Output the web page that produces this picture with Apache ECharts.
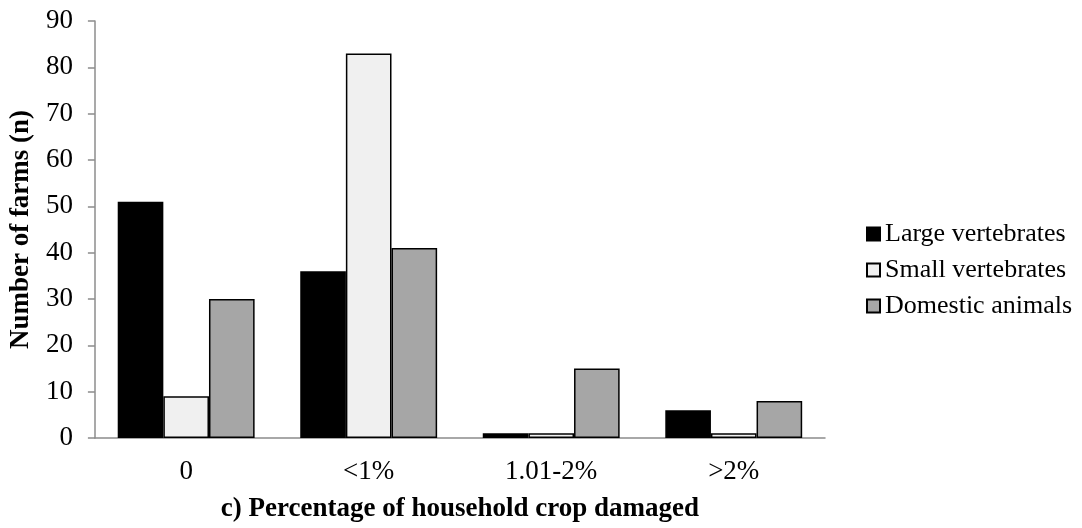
<!DOCTYPE html>
<html>
<head>
<meta charset="utf-8">
<script src="https://cdn.jsdelivr.net/npm/echarts@6/dist/echarts.min.js"></script>
<style>
  html, body { margin: 0; padding: 0; background: #ffffff; }
  #chart { width: 1082px; height: 528px; }
</style>
</head>
<body>
<div id="chart"></div>
<script>
// Categories of crop damage and farm counts per animal group
const categories = ['0', '<1%', '1.01-2%', '>2%'];
const largeVertebrates = [51, 36, 1, 6];
const smallVertebrates = [9, 83, 1, 1];
const domesticAnimals = [30, 41, 15, 8];
const yTicks = { min: 0, max: 90, interval: 10 };

const FONT = '"Liberation Serif", "Times New Roman", serif';
const chart = echarts.init(document.getElementById('chart'));

function barSeries(name, data, color) {
  return {
    name: name,
    type: 'bar',
    data: data,
    barGap: '0%',
    barCategoryGap: '25%',
    itemStyle: { color: color, borderColor: '#000000', borderWidth: 1.5 }
  };
}

chart.setOption({
  animation: false,
  backgroundColor: '#ffffff',
  grid: { left: 94, right: 257, top: 21, bottom: 87 },
  legend: {
    orient: 'vertical',
    left: 861,
    top: 216,
    itemWidth: 13,
    itemHeight: 13,
    itemGap: 10,
    icon: 'rect',
    textStyle: { fontFamily: FONT, fontSize: 26, color: '#000000' },
    data: ['Large vertebrates', 'Small vertebrates', 'Domestic animals']
  },
  xAxis: {
    type: 'category',
    data: categories,
    name: 'c) Percentage of household crop damaged',
    nameLocation: 'middle',
    nameGap: 58,
    nameTextStyle: { fontFamily: FONT, fontSize: 27, fontWeight: 'bold', color: '#000000' },
    axisLine: { lineStyle: { color: '#8c8c8c', width: 1.5 } },
    axisTick: { show: false },
    axisLabel: { fontFamily: FONT, fontSize: 27, color: '#000000', margin: 20 }
  },
  yAxis: {
    type: 'value',
    min: yTicks.min,
    max: yTicks.max,
    interval: yTicks.interval,
    name: 'Number of farms (n)',
    nameLocation: 'middle',
    nameGap: 56,
    nameTextStyle: { fontFamily: FONT, fontSize: 27, fontWeight: 'bold', color: '#000000' },
    axisLine: { show: true, lineStyle: { color: '#8c8c8c', width: 1.5 } },
    axisTick: { show: true, length: 7, lineStyle: { color: '#8c8c8c', width: 1.5 } },
    splitLine: { show: false },
    axisLabel: { fontFamily: FONT, fontSize: 27, color: '#000000', margin: 22 }
  },
  series: [
    barSeries('Large vertebrates', largeVertebrates, '#000000'),
    barSeries('Small vertebrates', smallVertebrates, '#f0f0f0'),
    barSeries('Domestic animals', domesticAnimals, '#a6a6a6')
  ]
});
</script>
</body>
</html>
